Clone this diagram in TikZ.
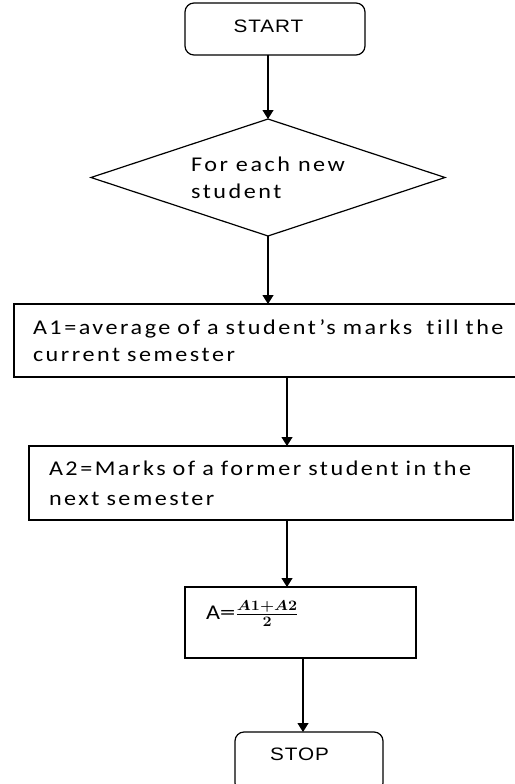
\documentclass[tikz,border=0pt]{standalone}
\usepackage{fontspec}
\usepackage{graphicx}
\usetikzlibrary{arrows.meta,shapes.geometric}
\newfontfamily\bodyfont{Carlito}[FakeStretch=1.15,LetterSpace=12,RawFeature={-liga;-clig;-dlig}]
\newfontfamily\termfont{Liberation Sans}[FakeStretch=1.15,LetterSpace=5]
\begin{document}
\begin{tikzpicture}[x=1pt,y=-1pt,
  every node/.style={inner sep=0pt, outer sep=0pt},
  conn/.style={line width=1.2pt,-{Triangle[width=11pt,length=9pt]}},
  term/.style={draw,line width=1.2pt,rounded corners=9pt,
    font=\termfont\fontsize{18}{22}\selectfont, text height=13pt},
  procbox/.style={draw,line width=1.2pt,rectangle,align=left,
    font=\bodyfont\fontsize{21}{27}\selectfont},
  decision/.style={draw,line width=1.2pt,diamond,aspect=3,align=left,
    font=\bodyfont\fontsize{21}{27}\selectfont}]
\useasboundingbox (0,0) rectangle (514,784);

\node[term, minimum width=180pt, minimum height=52pt, text depth=5pt] (start) at (275,29) {\hspace*{-13pt}START};

\node[decision, minimum width=354pt, minimum height=117pt] (dia) at (268,177.5) {For each new\\student};

\node[procbox, text width=465pt, inner xsep=19pt, minimum height=73pt] (box1) at (265.5,340.5)
  {\mbox{A1=average of a student’s marks\ \ till the}\\current semester};

\node[procbox, font=\bodyfont\fontsize{21}{30}\selectfont, text width=444pt, inner xsep=20pt, minimum height=74pt] (box2) at (271,483)
  {\mbox{A2=Marks of a former student in the}\\next semester};

\node[draw, line width=1.2pt, rectangle, minimum width=231pt, minimum height=71pt] (box3) at (300.5,622.5) {};
\node[anchor=base west, font=\bodyfont\fontsize{21}{27}\selectfont] (formula) at (206,619)
  {A\scalebox{1.3}[1]{=}\scalebox{1.12}[1]{\boldmath$\frac{A1+A2}{2}$}};

\node[term, minimum width=148pt, minimum height=60pt, text depth=17pt] (stop) at (309,762) {\hspace*{-19pt}STOP};

\coordinate (a3) at (287,0);
\coordinate (a5) at (303,0);

\draw[conn] (start.south -| dia.north) -- (dia.north);
\draw[conn] (dia.south) -- (dia.south |- box1.north);
\draw[conn] (box1.south -| a3) -- (box2.north -| a3);
\draw[conn] (box2.south -| a3) -- (box3.north -| a3);
\draw[conn] (box3.south -| a5) -- (stop.north -| a5);
\end{tikzpicture}
\end{document}
